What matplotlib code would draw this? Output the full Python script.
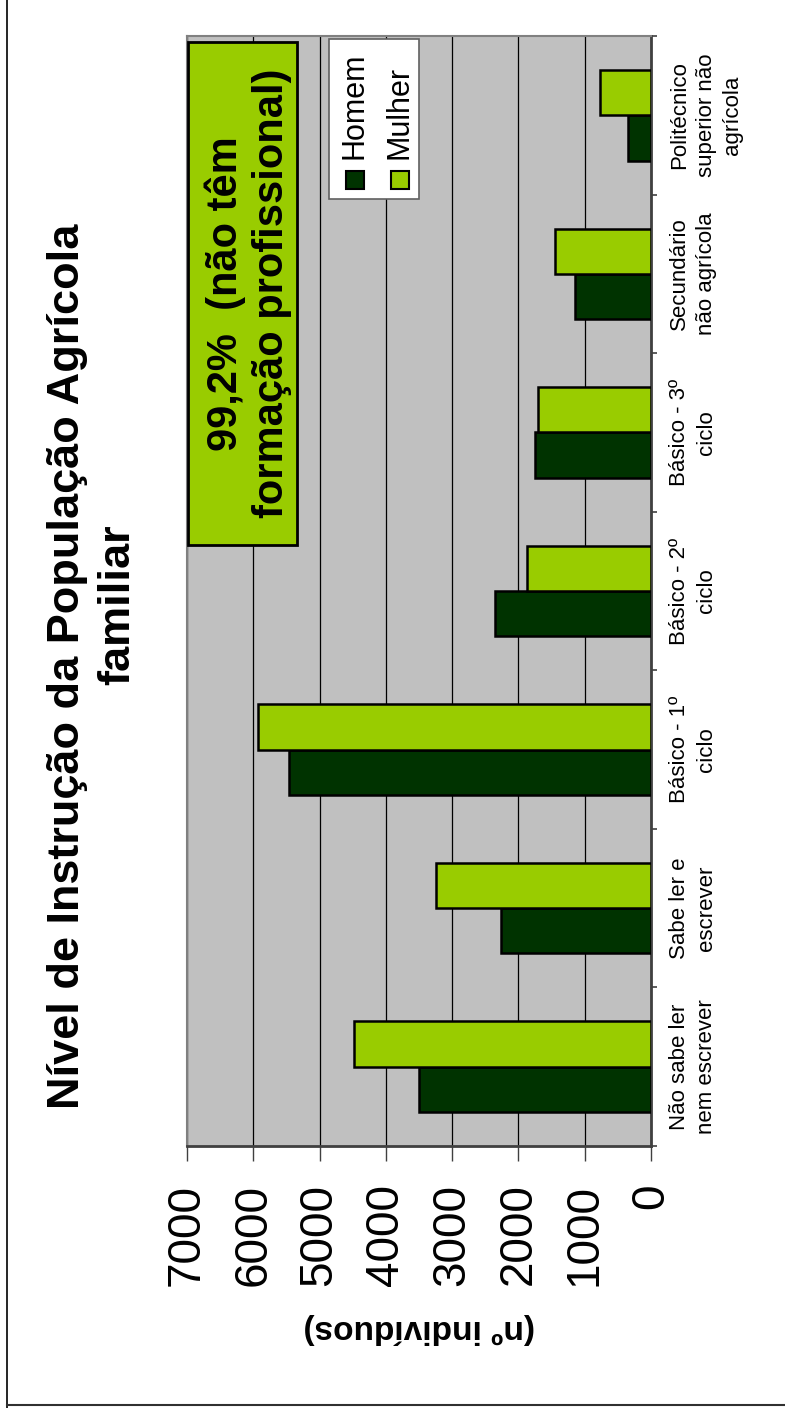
import numpy as np
import matplotlib
matplotlib.use("Agg")
from matplotlib import pyplot as plt
from matplotlib.patches import Rectangle
from matplotlib.lines import Line2D

plt.rcParams['font.family'] = ['Liberation Sans', 'DejaVu Sans']

categorias = ["Não sabe ler\nnem escrever", "Sabe ler e\nescrever", "Básico - 1º\nciclo",
              "Básico - 2º\nciclo", "Básico - 3º\nciclo", "Secundário\nnão agrícola",
              "Politécnico\nsuperior não\nagrícola"]
homem = [3500, 2265, 5460, 2350, 1755, 1150, 350]
mulher = [4480, 3240, 5930, 1875, 1710, 1450, 770]
valores_eixo = [0, 1000, 2000, 3000, 4000, 5000, 6000, 7000]

W, H = 785, 1408
fig = plt.figure(figsize=(W / 100, H / 100), dpi=100)
ax = fig.add_axes([187 / W, (H - 1146) / H, 464 / W, 1110 / H])
ax.set_facecolor('#C0C0C0')

pos = np.arange(len(categorias))
bw = 1 / 3.5
ax.barh(pos - bw / 2, homem, height=bw, color='#003300', edgecolor='black', linewidth=1.8, zorder=3)
ax.barh(pos + bw / 2, mulher, height=bw, color='#99CC00', edgecolor='black', linewidth=1.8, zorder=3)

ax.set_xlim(0, 7000)
ax.invert_xaxis()
ax.set_ylim(-0.5, len(categorias) - 0.5)
ax.set_xticks(valores_eixo)
ax.set_xticklabels([str(v) for v in valores_eixo], rotation=90, fontsize=33)
ax.grid(axis='x', color='black', linewidth=0.9, zorder=1)
ax.tick_params(axis='x', direction='out', length=11, width=1, color='#404040', pad=16)

ax.yaxis.tick_right()
ax.set_yticks(pos)
ax.set_yticklabels(categorias, rotation=90, fontsize=16, va='center', ha='left',
                   multialignment='center', linespacing=1.35)
ax.set_yticks(np.arange(len(categorias) + 1) - 0.5, minor=True)
ax.tick_params(axis='y', which='major', length=0, pad=13)
ax.tick_params(axis='y', which='minor', length=4.5, width=1.2, color='#404040')

for s in ['left', 'top']:
    ax.spines[s].set_color('#808080')
    ax.spines[s].set_linewidth(1.5)
for s in ['right', 'bottom']:
    ax.spines[s].set_color('#404040')
    ax.spines[s].set_linewidth(2)

ax.set_xlabel("(nº indivíduos)", rotation=180, fontsize=24, fontweight='bold', va='center')
ax.xaxis.set_label_coords(0.5, -0.164)

# caixa verde com a anotacao
ax.add_patch(Rectangle((0.002, 0.541), 0.235, 0.454, transform=ax.transAxes,
                       facecolor='#99CC00', edgecolor='black', linewidth=2, zorder=5))
ax.text(0.132, 0.768, "99,2%  (não têm\nformação profissional)", transform=ax.transAxes,
        rotation=90, ha='center', va='center', multialignment='center', fontsize=30,
        fontweight='bold', linespacing=1.2, zorder=6)

# legenda desenhada a mao (rodada)
ax.add_patch(Rectangle((0.306, 0.853), 0.194, 0.144, transform=ax.transAxes,
                       facecolor='white', edgecolor='#606060', linewidth=1.2, zorder=5))
for xc, cor, nome in [(0.362, '#003300', 'Homem'), (0.459, '#99CC00', 'Mulher')]:
    ax.add_patch(Rectangle((xc - 0.019, 0.862), 0.038, 0.016, transform=ax.transAxes,
                           facecolor=cor, edgecolor='black', linewidth=1.5, zorder=6))
    ax.text(xc, 0.889, nome, transform=ax.transAxes, rotation=90, ha='center', va='bottom',
            fontsize=22, zorder=6)

fig.text(68 / W, 1 - 666 / H, "Nível de Instrução da População Agrícola", rotation=90,
         ha='center', va='center', fontsize=32.5, fontweight='bold')
fig.text(118 / W, 1 - 605 / H, "familiar", rotation=90,
         ha='center', va='center', fontsize=32.5, fontweight='bold')

fig.add_artist(Line2D([7 / W, 7 / W], [0, 1], transform=fig.transFigure, color='black', lw=1.2))
fig.add_artist(Line2D([7 / W, 1], [3 / H, 3 / H], transform=fig.transFigure, color='#303030', lw=1.5))

fig.savefig("out.png", dpi=100)
